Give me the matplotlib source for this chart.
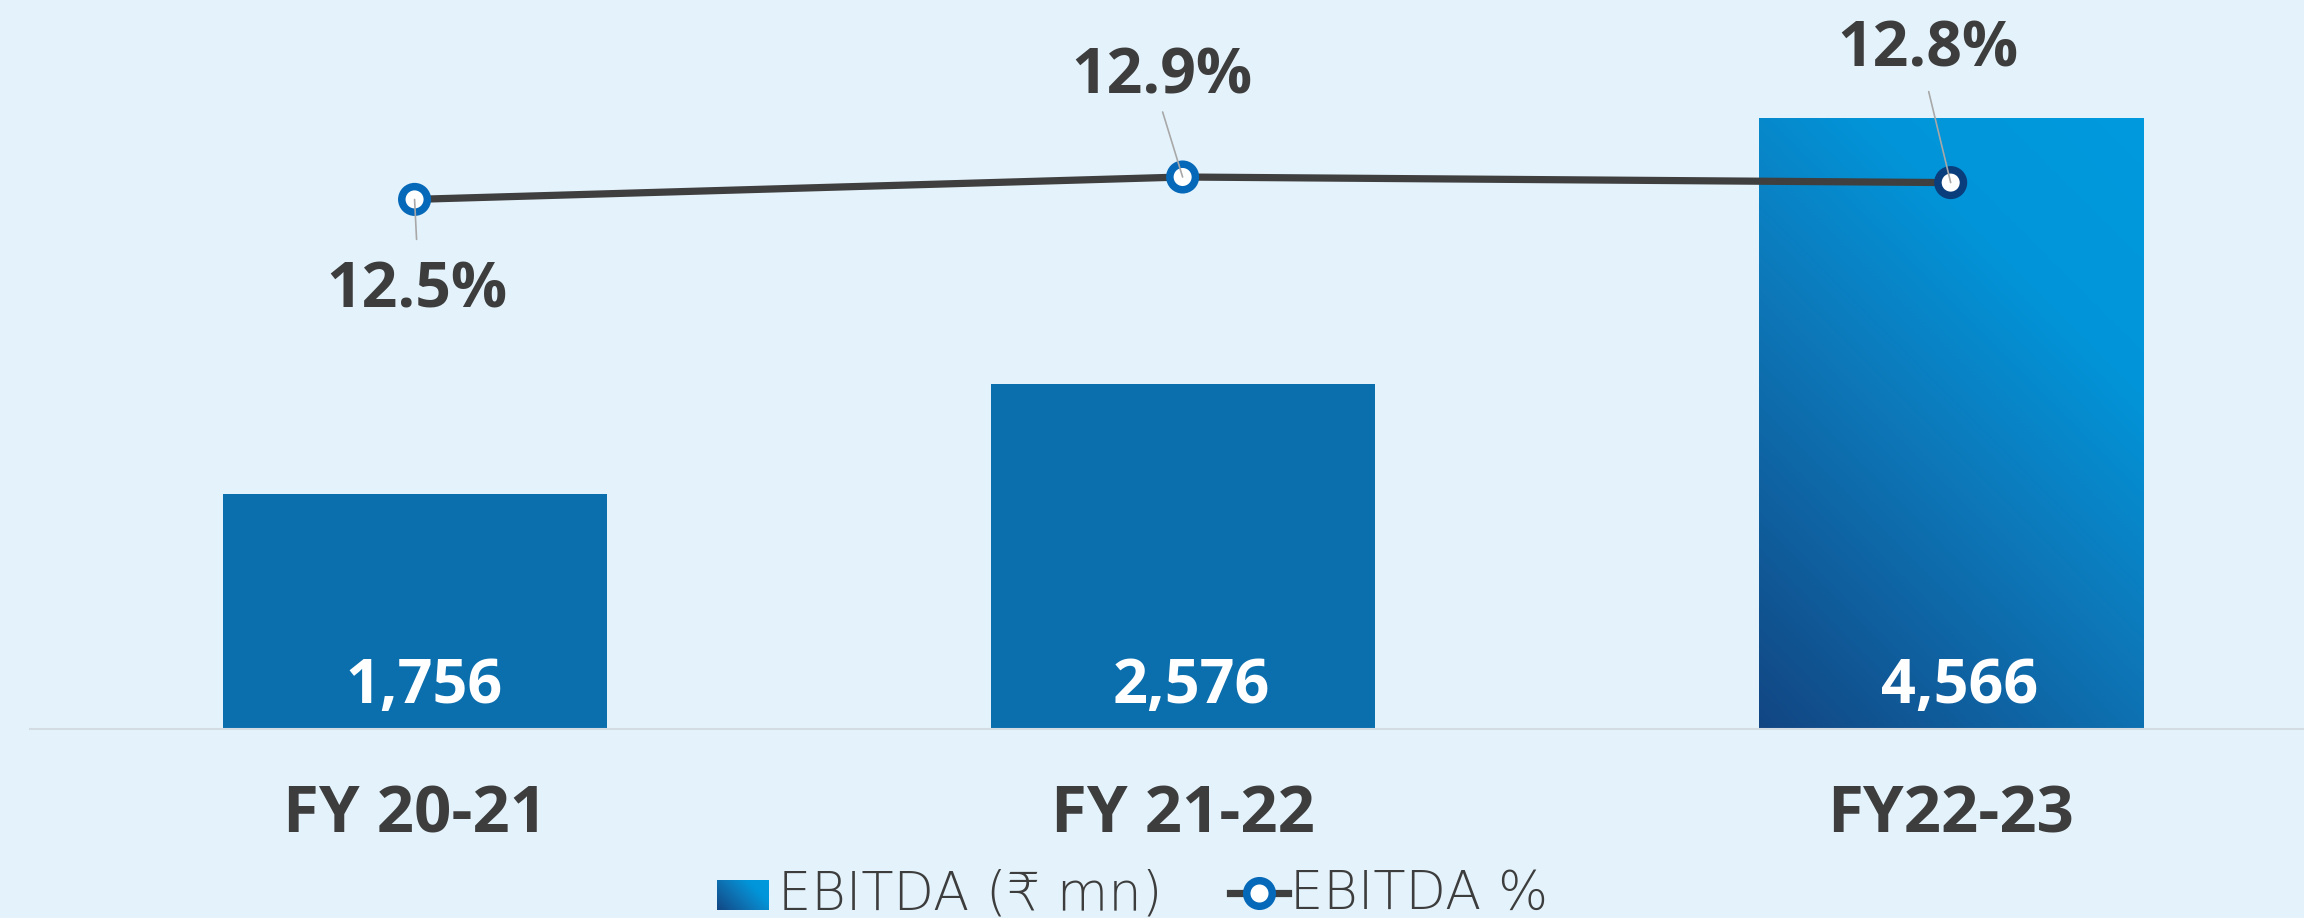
import numpy as np
import matplotlib
matplotlib.use('Agg')
import matplotlib.pyplot as plt
from matplotlib.colors import LinearSegmentedColormap
from matplotlib.lines import Line2D

# Datos
categorias = ['FY 20-21', 'FY 21-22', 'FY22-23']
ebitda = [1756, 2576, 4566]
ebitda_pct = [12.5, 12.9, 12.8]
etiquetas_pct = ['12.5%', '12.9%', '12.8%']
etiquetas_bar = ['1,756', '2,576', '4,566']

# Estilos
fondo = '#e4f3fb'
azul_bar = '#0b6fae'
gris_texto = '#3d3d3d'
aro = ['#0568b8', '#0568b8', '#0a3d7c']
fuente = ['Open Sans', 'Noto Sans', 'DejaVu Sans']
fuente_ley = ['DejaVu Sans']

degradado = LinearSegmentedColormap.from_list(
    'ebitda', [(0, '#124683'), (0.45, '#0d78b9'), (0.72, '#0294d8'), (1, '#009ade')])

W, H = 2304, 918
fig = plt.figure(figsize=(W / 100, H / 100), dpi=100, facecolor=fondo)

# ejes: base en y=729 px, de x=30 px hasta el borde
ax = fig.add_axes([30 / W, (H - 729) / H, (W - 30) / W, 729 / H])
ax.set_facecolor('none')
x = np.arange(len(categorias))
barras = ax.bar(x, ebitda, width=0.5, color=azul_bar, zorder=2)

# degradado en la última barra
b = barras[-1]
b.set_facecolor('none')
u, v = np.meshgrid(np.linspace(0, 1, 200), np.linspace(0, 1, 200))
t = (u * 385 + v * 611) / (385 + 611)
img = ax.imshow(t, cmap=degradado, origin='lower', aspect='auto', zorder=2,
                extent=(b.get_x(), b.get_x() + b.get_width(), 0, b.get_height()))
img.set_clip_path(b)

ax.set_xlim(-0.5007, 2.46)
ax.set_ylim(0, 729 / 0.1338)
for s in ['top', 'right', 'left']:
    ax.spines[s].set_visible(False)
ax.spines['bottom'].set_color('#d3dce3')
ax.spines['bottom'].set_linewidth(1.5)
ax.set_yticks([])
ax.set_xticks(x, categorias)
ax.tick_params(axis='x', length=0, pad=39, labelsize=47, labelcolor=gris_texto)
for lbl in ax.get_xticklabels():
    lbl.set_family(fuente)
    lbl.set_fontweight('bold')

for i, lab in enumerate(etiquetas_bar):
    ax.annotate(lab, xy=(x[i], 0), xytext=(9, 26), textcoords='offset pixels',
                ha='center', va='baseline', color='white', fontsize=44,
                fontweight='bold', family=fuente, zorder=3)

# línea de % EBITDA
ax2 = ax.twinx()
ax2.set_ylim(12.9 - 552 / 56, 12.9 + 177 / 56)
ax2.set_xlim(ax.get_xlim())
ax2.axis('off')
ax2.plot(x, ebitda_pct, color='#3f3f3f', lw=5.2, zorder=3, solid_capstyle='butt')
ax2.scatter(x, ebitda_pct, s=18.4 ** 2, facecolors='white', edgecolors=aro,
            linewidths=5.4, zorder=4)

desp_texto = [(2, -108), (-21, 84), (-23, 116)]
desp_linea = [(2, -40), (-20, 65), (-22, 91)]
for i, lab in enumerate(etiquetas_pct):
    ax2.annotate('', xy=(x[i], ebitda_pct[i]), xytext=desp_linea[i], textcoords='offset pixels',
                 arrowprops=dict(arrowstyle='-', color='#a8a8a8', lw=1.2, shrinkA=0, shrinkB=0),
                 zorder=5)
    ax2.annotate(lab, xy=(x[i], ebitda_pct[i]), xytext=desp_texto[i], textcoords='offset pixels',
                 ha='center', va='baseline', color=gris_texto, fontsize=45,
                 fontweight='bold', family=fuente)

# leyenda manual
cuad = fig.add_axes([717 / W, 1 - 910 / H, 52 / W, 30 / H])
cuad.imshow((u * 52 + v * 30) / 82, cmap=degradado, origin='lower', aspect='auto')
cuad.axis('off')
fig.text(778 / W, 1 - 909 / H, 'EBITDA (₹ mn)', ha='left', va='baseline', fontsize=38,
         fontweight=200, family=fuente_ley, color=gris_texto)
fig.add_artist(Line2D([1230 / W, 1288 / W], [1 - 893 / H, 1 - 893 / H], color='#3f3f3f',
                      lw=5.2, transform=fig.transFigure))
fig.add_artist(Line2D([1259 / W], [1 - 893 / H], marker='o', ms=18.4, mew=5.4,
                      mfc='white', mec='#0568b8', transform=fig.transFigure))
fig.text(1290 / W, 1 - 909 / H, 'EBITDA %', ha='left', va='baseline', fontsize=38,
         fontweight=200, family=fuente_ley, color=gris_texto)

fig.savefig('out.png', dpi=100, facecolor=fondo)
